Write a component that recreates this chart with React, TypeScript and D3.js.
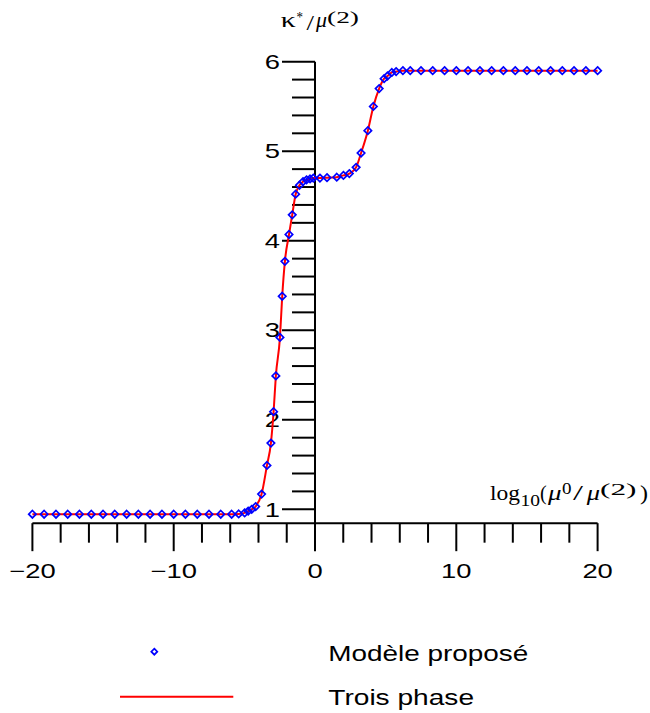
import React, { useEffect, useRef } from 'react'
import * as d3 from 'd3'

// "Modèle proposé" points
const modelX = [
  -20, -19.17, -18.33, -17.5, -16.67, -15.83, -15, -14.17, -13.33, -12.5, -11.67, -10.83,
  -10, -9.17, -8.33, -7.5, -6.67, -5.9, -5.4, -4.98, -4.73, -4.48, -4.2, -3.78, -3.4,
  -3.12, -2.93, -2.77, -2.48, -2.32, -2.13, -1.84, -1.61, -1.37, -1.1, -0.85, -0.6,
  -0.35, -0.12, 0.35, 0.85, 1.54, 2.01, 2.43, 2.91, 3.26, 3.74, 4.13, 4.54, 4.89, 5.13,
  5.44, 5.74, 6.22, 6.74, 7.5, 8.33, 9.17, 10, 10.83, 11.67, 12.5, 13.33, 14.17, 15,
  15.83, 16.67, 17.5, 18.33, 19.17, 20,
]
const modelY = [
  0.945, 0.945, 0.945, 0.945, 0.945, 0.945, 0.945, 0.945, 0.945, 0.945, 0.945, 0.945,
  0.945, 0.945, 0.945, 0.945, 0.945, 0.945, 0.948, 0.96, 0.98, 1.0, 1.03, 1.17, 1.49,
  1.74, 2.09, 2.49, 2.92, 3.38, 3.77, 4.07, 4.29, 4.52, 4.62, 4.66, 4.68,
  4.69, 4.7, 4.7, 4.705, 4.71, 4.73, 4.75, 4.82, 4.98, 5.23, 5.5, 5.7, 5.81, 5.84,
  5.88, 5.89, 5.9, 5.9, 5.9, 5.9, 5.9, 5.9, 5.9, 5.9, 5.9, 5.9, 5.9, 5.9,
  5.9, 5.9, 5.9, 5.9, 5.9, 5.9,
]
// "Trois phase" curve follows the same values
const threePhaseX = modelX
const threePhaseY = modelY

const xMajor = [-20, -10, 0, 10, 20]
const yMajor = [1, 2, 3, 4, 5, 6]
const legendLabels = ['Modèle proposé', 'Trois phase']

const SANS = 'Liberation Sans, Arial, sans-serif'
const SERIF = 'Liberation Serif, Times New Roman, serif'
const STRETCH = 1.37

export default function App() {
  const ref = useRef<SVGSVGElement>(null)

  useEffect(() => {
    const svg = d3.select(ref.current)
    svg.selectAll('*').remove()

    const x = d3.scaleLinear().domain([-20, 20]).range([32.4, 597.6])
    const y = d3.scaleLinear().domain([1, 6]).range([509.3, 61.7])
    const x0 = x(0)
    const axisY = y(0.845)

    // axes lines
    svg.append('line')
      .attr('x1', x(-20)).attr('x2', x(20)).attr('y1', axisY).attr('y2', axisY)
      .attr('stroke', '#000').attr('stroke-width', 2)
    svg.append('line')
      .attr('x1', x0).attr('x2', x0).attr('y1', y(6)).attr('y2', axisY)
      .attr('stroke', '#000').attr('stroke-width', 2)

    // x ticks
    const xMinor = d3.range(-20, 21, 2)
    svg.append('g').selectAll('line').data(xMinor).enter().append('line')
      .attr('x1', d => x(d)).attr('x2', d => x(d))
      .attr('y1', axisY).attr('y2', d => axisY + (xMajor.includes(d) ? 28 : 19.5))
      .attr('stroke', '#000').attr('stroke-width', 2)
    svg.append('g').selectAll('text').data(xMajor).enter().append('text')
      .attr('transform', d => `translate(${x(d)},${578.3}) scale(${STRETCH},1)`)
      .attr('text-anchor', 'middle')
      .attr('font-family', SANS).attr('font-size', 20)
      .text(d => d3.format('')(d))

    // y ticks
    const yMinor = d3.range(10, 61, 2).map(v => v / 10)
    svg.append('g').selectAll('line').data(yMinor).enter().append('line')
      .attr('y1', d => y(d)).attr('y2', d => y(d))
      .attr('x1', x0).attr('x2', d => x0 - (Number.isInteger(d) ? 33 : 23))
      .attr('stroke', '#000').attr('stroke-width', 2)
    svg.append('g').selectAll('text').data(yMajor).enter().append('text')
      .attr('transform', d => `translate(280,${y(d) + 7.2}) scale(${STRETCH},1)`)
      .attr('text-anchor', 'end')
      .attr('font-family', SANS).attr('font-size', 20)
      .text(d => String(d))

    // red line
    const line = d3.line<number>()
      .x(i => x(threePhaseX[i]))
      .y(i => y(threePhaseY[i]))
      .curve(d3.curveMonotoneX)
    svg.append('path')
      .attr('d', line(d3.range(threePhaseX.length)))
      .attr('fill', 'none').attr('stroke', '#ff0000').attr('stroke-width', 2)

    // diamonds
    const diamond = (r: number) => `M0,${-r}L${r},0L0,${r}L${-r},0Z`
    svg.append('g').selectAll('path').data(d3.range(modelX.length)).enter().append('path')
      .attr('transform', i => `translate(${x(modelX[i])},${y(modelY[i])})`)
      .attr('d', diamond(3.7))
      .attr('fill', 'none').attr('stroke', '#0000ff').attr('stroke-width', 1.7)

    // axis titles, piece by piece
    const piece = (px: number, py: number, str: string, size: number, w: number, italic = false) => {
      svg.append('text')
        .attr('x', px).attr('y', py)
        .attr('font-family', SERIF).attr('font-size', size)
        .attr('font-style', italic ? 'italic' : 'normal')
        .attr('textLength', w).attr('lengthAdjust', 'spacingAndGlyphs')
        .text(str)
    }
    // κ*/μ(2)
    piece(280.7, 27.3, 'κ', 21, 15)
    piece(296.5, 22, '*', 15, 6.5)
    piece(306.5, 30, '/', 21, 7.5)
    piece(316, 27.3, 'μ', 21, 11, true)
    piece(327, 22.5, '(2)', 16, 32)
    // log10(μ0/μ(2))
    piece(490, 500, 'log', 21, 30)
    piece(520.5, 505.5, '10', 16, 19.5)
    piece(540, 500, '(', 21, 6.7)
    piece(548, 500, 'μ', 21, 13.5, true)
    piece(562, 493.5, '0', 16, 9.5)
    piece(573, 500, '/', 21, 10)
    piece(586.7, 500, 'μ', 21, 13.3, true)
    piece(600, 495, '(2)', 16, 36.5)
    piece(640, 500, ')', 21, 8)

    // legend
    svg.append('path')
      .attr('transform', 'translate(154.3,651.7)')
      .attr('d', diamond(3))
      .attr('fill', 'none').attr('stroke', '#0000ff').attr('stroke-width', 1.7)
    svg.append('line')
      .attr('x1', 120).attr('x2', 233.3).attr('y1', 696.7).attr('y2', 696.7)
      .attr('stroke', '#ff0000').attr('stroke-width', 2)
    const legendW = [200, 145.7]
    const legendBase = [660.7, 705]
    svg.append('g').selectAll('text').data(legendLabels).enter().append('text')
      .attr('x', 328.3).attr('y', (d, i) => legendBase[i])
      .attr('font-family', SANS).attr('font-size', 22)
      .attr('textLength', (d, i) => legendW[i]).attr('lengthAdjust', 'spacingAndGlyphs')
      .text(d => d)
  }, [])

  return (
    <svg
      ref={ref}
      width={650}
      height={713}
      style={{ position: 'absolute', left: 0, top: 0, background: '#fff' }}
    />
  )
}
